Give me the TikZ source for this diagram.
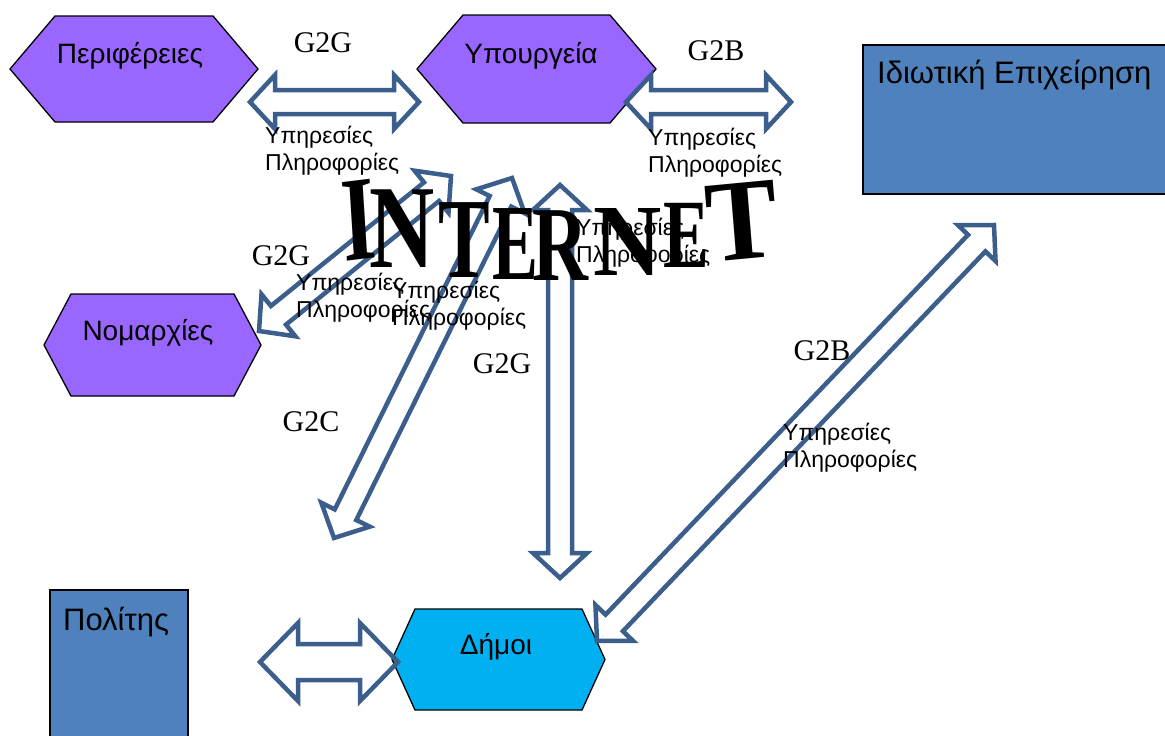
\documentclass[tikz,border=0pt]{standalone}
\usepackage{fontspec}
\setmainfont{Liberation Sans}
\newfontfamily\serifgr{Liberation Serif}
\newfontfamily\inetfont{Liberation Serif}
\usetikzlibrary{calc}
\definecolor{hexpurple}{HTML}{9966FF}
\definecolor{boxblue}{HTML}{4F81BD}
\definecolor{dimcyan}{HTML}{00B0F0}
\definecolor{arrowblue}{HTML}{3B5E8C}
% double-headed block arrow: from, to, shaft half width, head half width, head length
\newcommand\dblarrow[5]{%
  \draw[blockarrow] (#1)
    -- ($(#1)!#5!(#2)!#4!90:(#2)$) -- ($(#1)!#5!(#2)!#3!90:(#2)$)
    -- ($(#2)!#5!(#1)!#3!-90:(#1)$) -- ($(#2)!#5!(#1)!#4!-90:(#1)$)
    -- (#2)
    -- ($(#2)!#5!(#1)!#4!90:(#1)$) -- ($(#2)!#5!(#1)!#3!90:(#1)$)
    -- ($(#1)!#5!(#2)!#3!-90:(#2)$) -- ($(#1)!#5!(#2)!#4!-90:(#2)$)
    -- cycle;}
% hexagon drawn on a named box node: node, inset, fill
\newcommand\hexdraw[3]{%
  \draw[hexline, fill=#3] (#1.west) -- ([xshift=#2]#1.north west) -- ([xshift=-#2]#1.north east)
    -- (#1.east) -- ([xshift=-#2]#1.south east) -- ([xshift=#2]#1.south west) -- cycle;}
\newcommand\twolines[2]{\vtop{\baselineskip=27pt\hbox{#1}\hbox{#2}}}
\begin{document}
\begin{tikzpicture}[x=1pt,y=-1pt,
  hexline/.style={draw=black, line width=1.3pt, line join=miter},
  shapebox/.style={inner sep=0pt, outer sep=0pt},
  blockarrow/.style={draw=arrowblue, line width=4.5pt, line join=miter},
  boxtext/.style={font=\fontsize{28pt}{32pt}\selectfont, inner sep=0pt, anchor=base},
  glabel/.style={font=\serifgr\fontsize{30pt}{34pt}\selectfont, inner sep=0pt, anchor=base},
  infolabel/.style={font=\fontsize{23pt}{27pt}\selectfont, inner sep=0pt, anchor=base west},
  inetletter/.style={font=\inetfont\bfseries\fontsize{86pt}{86pt}\selectfont, inner sep=0pt, anchor=base}]
\useasboundingbox (0,0) rectangle (1165,736);
\clip (0,0) rectangle (1165,736);

% shapes
\node[shapebox, minimum width=248pt, minimum height=106pt] (per) at (134,69) {};
\hexdraw{per}{45pt}{hexpurple}
\node[boxtext] (pertext) at (130,63) {Περιφέρειες};

\node[shapebox, minimum width=239pt, minimum height=108pt] (ypo) at (536.5,69) {};
\hexdraw{ypo}{46pt}{hexpurple}
\node[boxtext] (ypotext) at (531,63) {Υπουργεία};

\node[shapebox, minimum width=217pt, minimum height=102pt] (nom) at (152.5,345) {};
\hexdraw{nom}{27pt}{hexpurple}
\node[boxtext] (nomtext) at (148,340) {Νομαρχίες};

\node[shapebox, minimum width=213pt, minimum height=101pt] (dim) at (498.5,659.5) {};
\hexdraw{dim}{23pt}{dimcyan}
\node[boxtext] (dimtext) at (496,654) {Δήμοι};

\node[shapebox, draw=black, line width=1.3pt, fill=boxblue, anchor=north west,
      minimum width=320pt, minimum height=149pt] (idi) at (863,45) {};
\node[boxtext, anchor=base west, font=\fontsize{31pt}{35pt}\selectfont] (iditext) at (877,83) {Ιδιωτική Επιχείρηση};

\node[shapebox, draw=black, line width=1.3pt, fill=boxblue, anchor=north west,
      minimum width=138pt, minimum height=160pt] (pol) at (50,590) {};
\node[boxtext, anchor=base west, font=\fontsize{31pt}{35pt}\selectfont] (poltext) at (63,630) {Πολίτης};

% arrow end points
\coordinate (a1s) at (250,102);  \coordinate (a1e) at (419,102);
\coordinate (a2s) at (626,102);  \coordinate (a2e) at (791,102);
\coordinate (a3s) at (259,331);  \coordinate (a3e) at (451,176);
\coordinate (a4s) at (334,538);  \coordinate (a4e) at (512,178);
\coordinate (a5s) at (560,185);  \coordinate (a5e) at (560,578);
\coordinate (a6s) at (597,641);  \coordinate (a6e) at (994,225);
\coordinate (a7s) at (260,662);  \coordinate (a7e) at (398,662);

\dblarrow{a1s}{a1e}{12pt}{27pt}{25pt}
\dblarrow{a2s}{a2e}{12pt}{27pt}{25pt}
\dblarrow{a3s}{a3e}{12pt}{27pt}{25pt}
\dblarrow{a4s}{a4e}{12pt}{27pt}{26pt}
\dblarrow{a5s}{a5e}{12pt}{27pt}{25pt}
\dblarrow{a6s}{a6e}{12pt}{26pt}{25pt}
\dblarrow{a7s}{a7e}{18pt}{39pt}{38pt}

% labels
\node[glabel] (g2g1) at (323,52) {G2G};
\node[glabel] (g2b1) at (716,60) {G2B};
\node[glabel] (g2g2) at (281,265) {G2G};
\node[glabel] (g2c)  at (311,431) {G2C};
\node[glabel] (g2g3) at (502,373) {G2G};
\node[glabel] (g2b2) at (822,360) {G2B};

\node[infolabel] (info1) at (265,143) {\twolines{Υπηρεσίες}{Πληροφορίες}};
\node[infolabel] (info2) at (648,145) {\twolines{Υπηρεσίες}{Πληροφορίες}};
\node[infolabel] (info3) at (296,290) {\twolines{Υπηρεσίες}{Πληροφορίες}};
\node[infolabel] (info4) at (392,298) {\twolines{Υπηρεσίες}{Πληροφορίες}};
\node[infolabel] (info5) at (576,235) {\twolines{Υπηρεσίες}{Πληροφορίες}};
\node[infolabel] (info6) at (783,440) {\twolines{Υπηρεσίες}{Πληροφορίες}};

% INTERNET word art (letters on a sagging arc)
\node[inetletter, xscale=1.0,  yscale=1.40, rotate=5] (inI)  at (361,259) {I};
\node[inetletter, xscale=1.05, yscale=1.38] (inN1) at (402,267) {N};
\node[inetletter, xscale=0.9,  yscale=1.33] (inT1) at (464,277) {T};
\node[inetletter, xscale=0.8,  yscale=1.26] (inE1) at (515,279) {E};
\node[inetletter, xscale=0.9,  yscale=1.24] (inR)  at (560,280) {R};
\node[inetletter, xscale=1.1,  yscale=1.19] (inN2) at (628,275) {N};
\node[inetletter, xscale=0.8,  yscale=1.14] (inE2) at (686,267) {E};
\node[inetletter, xscale=1.25, yscale=1.35, rotate=5] (inT2) at (745,259) {T};
\end{tikzpicture}
\end{document}
